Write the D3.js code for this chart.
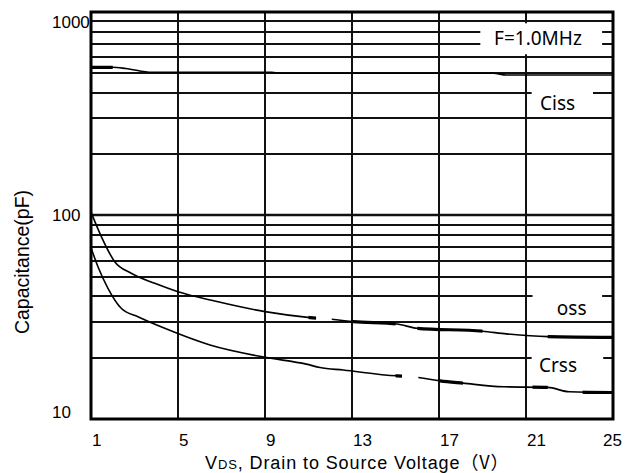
<!DOCTYPE html>
<html>
<head>
<meta charset="utf-8">
<script src="https://cdn.jsdelivr.net/npm/d3@7"></script>
<style>
  body { margin: 0; background: #fff; }
</style>
</head>
<body>
<svg id="chart" width="627" height="473"></svg>
<script>
// x / y tick labels
const vds_ticks = [1, 5, 9, 13, 17, 21, 25];
const cap_ticks = [10, 100, 1000];

// curves (null = gap in the printed line)
const ciss_vds = [1, 2, 2.6, 3.8, 9.3, 9.7, 19.5, 20.1, 25];
const ciss_cap = [535, 535, 528, 505, 505, 500, 500, 490, 490];

const coss_vds = [1, 1.47, 2.09, 2.85, 3.93, 5, 6.69, 9, 11.07, 11.35, 11.7, 12.07, 13.06, 15.06, 16.0, 19, 20.1, 22, 25];
const coss_cap = [104, 79, 59.3, 52, 46.4, 42.2, 38, 33.7, 31.5, 31.3, null, 30.9, 30.1, 29.3, 27.9, 27.0, 26.2, 25.4, 25.2];

const crss_vds = [1, 1.32, 1.78, 2.39, 3.16, 4.39, 6.47, 9, 10.9, 11.53, 12.6, 15.06, 15.3, 15.7, 16.05, 17.05, 18.1, 19.96, 22, 23, 25];
const crss_cap = [69.5, 56, 43.9, 35, 31.8, 27.9, 23.1, 20.1, 18.6, 17.9, 17.4, 16.3, 16.25, null, 16.0, 15.4, 15.0, 14.4, 14.3, 13.6, 13.5];

// stretches where the printed trace is heavier
const ciss_heavy = [[1, 2]];
const coss_heavy = [[11, 11.35], [13, 15], [16, 19], [22, 25]];
const crss_heavy = [[15, 15.3], [17, 18.1], [21.3, 22], [23.6, 25]];

const label_text = ["F=1.0MHz", "Ciss", "oss", "Crss"];

const svg = d3.select("#chart");
const margins = { top: 12, right: 14, bottom: 54, left: 91 };
const width = 627, height = 473;

const x = d3.scaleLinear()
    .domain([1, 25])
    .range([margins.left, width - margins.right]);

const y = d3.scaleLog()
    .domain([10, 1000])
    .range([height - margins.bottom, margins.top]);

// horizontal grid (log minors)
svg.append("g")
    .selectAll("line")
    .data(y.ticks())
    .join("line")
    .attr("x1", x(1))
    .attr("x2", x(25))
    .attr("y1", d => Math.round(y(d)))
    .attr("y2", d => Math.round(y(d)))
    .attr("stroke", "#111")
    .attr("stroke-width", d => d == 100 ? 2.5 : 2);

// vertical grid
svg.append("g")
    .selectAll("line")
    .data(vds_ticks)
    .join("line")
    .attr("x1", d => Math.round(x(d)))
    .attr("x2", d => Math.round(x(d)))
    .attr("y1", y(1000))
    .attr("y2", y(10))
    .attr("stroke", "#111")
    .attr("stroke-width", 2);

// frame
svg.append("rect")
    .attr("x", x(1))
    .attr("y", y(1000))
    .attr("width", x(25) - x(1))
    .attr("height", y(10) - y(1000))
    .attr("fill", "none")
    .attr("stroke", "#000")
    .attr("stroke-width", 3);

// white boxes behind the curve labels
const label_box = [
    { x0: 18.9, x1: 24.5, c0: 880, c1: 620, tx: 21.55, tc: 689 },
    { x0: 21.26, x1: 24.08, c0: 437, c1: 310, tx: 22.45, tc: 330 },
    { x0: 21.3, x1: 24.5, c0: 44.5, c1: 31.2, tx: 23.1, tc: 32.4 },
    { x0: 21.26, x1: 24.55, c0: 22.3, c1: 17.2, tx: 22.47, tc: 17.1 }
];

svg.append("g")
    .selectAll("rect")
    .data(label_box)
    .join("rect")
    .attr("x", d => x(d.x0))
    .attr("y", d => y(d.c0))
    .attr("width", d => x(d.x1) - x(d.x0))
    .attr("height", d => y(d.c1) - y(d.c0))
    .attr("fill", "#fff");

svg.append("g")
    .selectAll("text")
    .data(label_box)
    .join("text")
    .attr("x", d => x(d.tx))
    .attr("y", d => y(d.tc))
    .attr("text-anchor", "middle")
    .style("font-family", "'Noto Sans', sans-serif")
    .style("font-size", "19px")
    .text((d, i) => label_text[i]);

// curves
const line = d3.line()
    .defined(d => d[1] != null)
    .x(d => x(d[0]))
    .y(d => y(d[1]))
    .curve(d3.curveMonotoneX);

const defs = svg.append("defs");

[[ciss_vds, ciss_cap, ciss_heavy], [coss_vds, coss_cap, coss_heavy], [crss_vds, crss_cap, crss_heavy]].forEach(([v, c, heavy], i) => {
    const pts = d3.zip(v, c);
    svg.append("path")
        .datum(pts)
        .attr("d", line)
        .attr("fill", "none")
        .attr("stroke", "#000")
        .attr("stroke-width", 1.6);

    const clip = defs.append("clipPath").attr("id", "heavy" + i);
    clip.selectAll("rect")
        .data(heavy)
        .join("rect")
        .attr("x", d => x(d[0]))
        .attr("width", d => x(d[1]) - x(d[0]))
        .attr("y", 0)
        .attr("height", height);

    svg.append("path")
        .datum(pts)
        .attr("d", line)
        .attr("fill", "none")
        .attr("stroke", "#000")
        .attr("stroke-width", 3.2)
        .attr("clip-path", "url(#heavy" + i + ")");
});

// tick labels
svg.append("g")
    .selectAll("text")
    .data(vds_ticks)
    .join("text")
    .attr("x", d => Math.min(x(d) + 1, x(25) - 10))
    .attr("y", y(10) + 27)
    .style("font-family", "'Liberation Sans', Arial, sans-serif")
    .style("font-size", "17px")
    .text(d => d);

svg.append("g")
    .selectAll("text")
    .data(cap_ticks)
    .join("text")
    .attr("x", 52)
    .attr("y", d => Math.max(Math.min(y(d), y(10) - 7), y(1000) + 10))
    .attr("dy", "0.35em")
    .style("font-family", "'Liberation Sans', Arial, sans-serif")
    .style("font-size", "17px")
    .text(d => d);

// axis titles
const xt = svg.append("text")
    .attr("x", 205)
    .attr("y", 469)
    .style("font-family", "'Liberation Sans', Arial, sans-serif")
    .style("font-size", "18px")
    .style("letter-spacing", "0.9px");
xt.append("tspan").text("V");
xt.append("tspan").style("font-size", "13px").text("DS");
xt.append("tspan").text(", Drain to Source Voltage");
xt.append("tspan").style("font-family", "'Noto Sans CJK SC', sans-serif").text("（V）");

svg.append("text")
    .attr("transform", "translate(29," + 262 + ") rotate(-90)")
    .attr("text-anchor", "middle")
    .style("font-family", "'Liberation Sans', Arial, sans-serif")
    .style("font-size", "19.5px")
    .text("Capacitance(pF)");
</script>
</body>
</html>
